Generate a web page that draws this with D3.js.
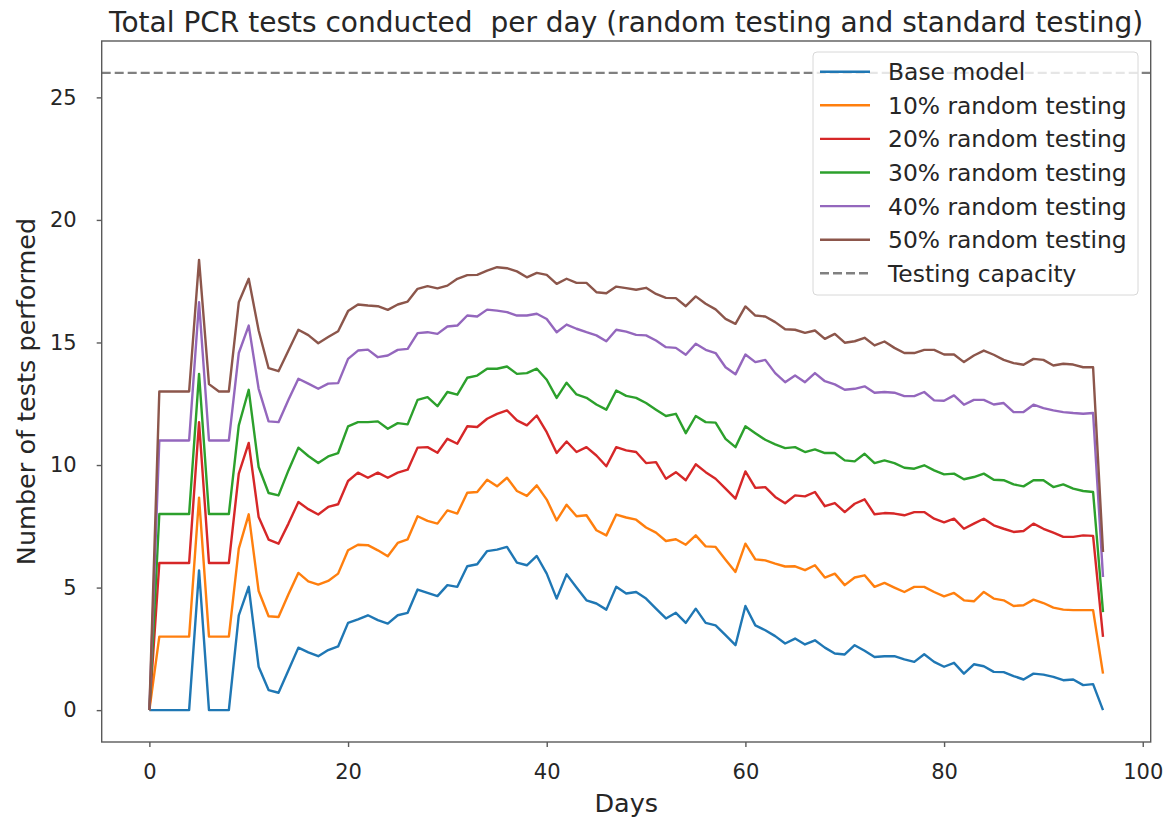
<!DOCTYPE html>
<html>
<head>
<meta charset="utf-8">
<script src="https://cdn.jsdelivr.net/npm/d3@7"></script>
<style>
  body { margin: 0; background: #fff; }
  text { font-family: "DejaVu Sans", sans-serif; fill: #262626; }
</style>
</head>
<body>
<div id="chart"></div>
<script>
// values, one per day (0..96)
var days = d3.range(0, 97);

var baseModel = [
  0, 0, 0, 0, 0, 5.7, 0, 0, 0, 3.87,
  5.03, 1.77, 0.82, 0.71, 1.63, 2.55, 2.36, 2.2, 2.45, 2.6,
  3.56, 3.7, 3.87, 3.67, 3.53, 3.87, 3.97, 4.92, 4.78, 4.65,
  5.1, 5.03, 5.87, 5.95, 6.49, 6.55, 6.66, 6.02, 5.91, 6.29,
  5.57, 4.55, 5.54, 5.0, 4.48, 4.35, 4.1, 5.03, 4.76, 4.82,
  4.55, 4.14, 3.74, 3.97, 3.56, 4.14, 3.56, 3.46, 3.06, 2.65,
  4.25, 3.46, 3.26, 3.02, 2.72, 2.92, 2.68, 2.85, 2.55, 2.31,
  2.27, 2.65, 2.42, 2.17, 2.2, 2.2, 2.07, 1.97, 2.28, 1.97,
  1.77, 1.93, 1.49, 1.87, 1.79, 1.56, 1.55, 1.39, 1.25, 1.49,
  1.45, 1.36, 1.22, 1.25, 1.02, 1.06, 0
];
var random10 = [
  0, 3, 3, 3, 3, 8.67, 3, 3, 3, 6.59,
  7.99, 4.86, 3.83, 3.8, 4.73, 5.6, 5.25, 5.12, 5.27, 5.57,
  6.52, 6.75, 6.73, 6.52, 6.28, 6.82, 6.97, 7.91, 7.72, 7.61,
  8.15, 8.02, 8.87, 8.9, 9.4, 9.13, 9.48, 8.94, 8.74, 9.17,
  8.59, 7.74, 8.38, 7.91, 7.95, 7.34, 7.13, 7.98, 7.86, 7.77,
  7.45, 7.24, 6.9, 6.97, 6.75, 7.13, 6.68, 6.66, 6.14, 5.64,
  6.79, 6.15, 6.11, 5.98, 5.86, 5.87, 5.71, 5.91, 5.41, 5.57,
  5.1, 5.41, 5.5, 5.03, 5.19, 5.0, 4.82, 5.03, 5.03, 4.82,
  4.64, 4.78, 4.48, 4.44, 4.82, 4.55, 4.48, 4.25, 4.28, 4.51,
  4.37, 4.18, 4.1, 4.08, 4.08, 4.08, 1.49
];
var random20 = [
  0, 6, 6, 6, 6, 11.75, 6, 6, 6, 9.65,
  10.9, 7.88, 6.96, 6.79, 7.61, 8.49, 8.2, 7.98, 8.29, 8.4,
  9.35, 9.69, 9.48, 9.69, 9.48, 9.69, 9.81, 10.71, 10.73, 10.5,
  11.07, 10.87, 11.58, 11.55, 11.89, 12.09, 12.23, 11.82, 11.62, 12.02,
  11.34, 10.49, 10.96, 10.53, 10.73, 10.39, 9.95, 10.73, 10.6, 10.53,
  10.08, 10.12, 9.44, 9.71, 9.38, 10.03, 9.71, 9.44, 9.04, 8.63,
  9.74, 9.07, 9.1, 8.7, 8.44, 8.76, 8.72, 8.9, 8.32, 8.45,
  8.08, 8.42, 8.6, 7.99, 8.04, 8.02, 7.95, 8.08, 8.08, 7.81,
  7.66, 7.81, 7.4, 7.61, 7.81, 7.54, 7.4, 7.27, 7.31, 7.61,
  7.4, 7.24, 7.07, 7.07, 7.13, 7.11, 2.99
];
var random30 = [
  0, 8, 8, 8, 8, 13.72, 8, 8, 8, 11.62,
  13.07, 9.92, 8.86, 8.76, 9.78, 10.71, 10.37, 10.08, 10.35, 10.49,
  11.58, 11.75, 11.75, 11.78, 11.48, 11.71, 11.66, 12.66, 12.77, 12.4,
  12.98, 12.87, 13.56, 13.65, 13.93, 13.93, 14.02, 13.72, 13.75, 13.93,
  13.48, 12.74, 13.36, 12.88, 12.74, 12.47, 12.26, 13.04, 12.82, 12.74,
  12.53, 12.26, 12.0, 12.09, 11.3, 12.0, 11.75, 11.73, 11.07, 10.73,
  11.58, 11.3, 11.03, 10.84, 10.69, 10.73, 10.53, 10.64, 10.49, 10.49,
  10.19, 10.15, 10.46, 10.08, 10.19, 10.08, 9.89, 9.85, 9.99, 9.78,
  9.62, 9.65, 9.42, 9.51, 9.65, 9.4, 9.38, 9.21, 9.13, 9.38,
  9.38, 9.1, 9.21, 9.04, 8.94, 8.9, 4.0
];
var random40 = [
  0, 11, 11, 11, 11, 16.64, 11, 11, 11, 14.57,
  15.69, 13.11, 11.78, 11.75, 12.66, 13.52, 13.32, 13.11, 13.32, 13.34,
  14.33, 14.67, 14.71, 14.4, 14.47, 14.7, 14.74, 15.38, 15.42, 15.35,
  15.65, 15.69, 16.1, 16.06, 16.34, 16.3, 16.24, 16.1, 16.1, 16.17,
  15.96, 15.42, 15.73, 15.56, 15.42, 15.29, 15.05, 15.52, 15.44, 15.31,
  15.29, 15.08, 14.81, 14.78, 14.5, 14.95, 14.7, 14.57, 13.99, 13.7,
  14.51, 14.2, 14.29, 13.75, 13.38, 13.65, 13.38, 13.75, 13.42, 13.29,
  13.07, 13.11, 13.21, 12.95, 12.98, 12.95, 12.81, 12.81, 12.98, 12.64,
  12.62, 12.84, 12.46, 12.66, 12.66, 12.47, 12.53, 12.16, 12.16, 12.46,
  12.32, 12.23, 12.16, 12.12, 12.09, 12.12, 5.43
];
var random50 = [
  0, 13, 13, 13, 13, 18.37, 13.3, 13, 13, 16.64,
  17.6, 15.49, 13.95, 13.83, 14.67, 15.52, 15.3, 14.97, 15.22, 15.46,
  16.28, 16.55, 16.51, 16.48, 16.33, 16.55, 16.67, 17.19, 17.3, 17.21,
  17.32, 17.6, 17.75, 17.76, 17.93, 18.07, 18.03, 17.9, 17.66, 17.84,
  17.76, 17.39, 17.6, 17.43, 17.43, 17.05, 17.01, 17.28, 17.22, 17.15,
  17.23, 16.98, 16.82, 16.81, 16.48, 16.88, 16.58, 16.35, 15.96, 15.76,
  16.47, 16.1, 16.06, 15.83, 15.54, 15.52, 15.39, 15.49, 15.15, 15.35,
  14.99, 15.05, 15.19, 14.88, 15.04, 14.78, 14.57, 14.57, 14.7, 14.7,
  14.51, 14.51, 14.2, 14.47, 14.67, 14.5, 14.29, 14.16, 14.09, 14.33,
  14.29, 14.06, 14.13, 14.1, 13.99, 13.99, 6.45
];
var testingCapacity = 26;

var seriesNames = ["Base model", "10% random testing", "20% random testing",
  "30% random testing", "40% random testing", "50% random testing"];
var seriesValues = [baseModel, random10, random20, random30, random40, random50];
var colors = ["#1f77b4", "#ff7f0e", "#d62728", "#2ca02c", "#9467bd", "#8c564b"];

var xTicks = [0, 20, 40, 60, 80, 100];
var yTicks = [0, 5, 10, 15, 20, 25];

var width = 1168,
  height = 818,
  margin = {left: 101.7, right: 17.3, top: 41, bottom: 76},
  innerW = width - margin.left - margin.right,
  innerH = height - margin.top - margin.bottom;

var svg = d3.select("#chart").append("svg")
  .attr("width", width)
  .attr("height", height);

var chart = svg.append("g")
  .attr("transform", "translate(" + margin.left + "," + margin.top + ")");

// matplotlib style 5% margins
var x = d3.scaleLinear().domain([-4.8, 100.8]).range([0, innerW]);
var y = d3.scaleLinear().domain([-1.3, 27.3]).range([innerH, 0]);

var line = d3.line()
  .x(function (d, i) { return x(days[i]); })
  .y(function (d) { return y(d); });

chart.selectAll("path.series")
  .data(seriesValues)
  .enter().append("path")
  .attr("class", "series")
  .attr("d", line)
  .attr("fill", "none")
  .attr("stroke", function (d, i) { return colors[i]; })
  .attr("stroke-width", 2.4)
  .attr("stroke-linejoin", "round");

chart.append("line")
  .attr("x1", 0).attr("x2", innerW)
  .attr("y1", y(testingCapacity)).attr("y2", y(testingCapacity))
  .attr("stroke", "#808080")
  .attr("stroke-width", 2.4)
  .attr("stroke-dasharray", "9,4");

// axes
var xAxis = chart.append("g")
  .attr("transform", "translate(0," + innerH + ")")
  .call(d3.axisBottom(x).tickValues(xTicks).tickSize(5).tickPadding(17).tickSizeOuter(0));
var yAxis = chart.append("g")
  .call(d3.axisLeft(y).tickValues(yTicks).tickSize(5).tickPadding(20).tickSizeOuter(0));

[xAxis, yAxis].forEach(function (a) {
  a.select(".domain").remove();
  a.selectAll("line").attr("stroke", "#5a5a5a").attr("stroke-width", 1.4);
  a.selectAll("text").style("font-size", "21px").style("font-family", "DejaVu Sans").attr("fill", "#262626");
});

// frame
chart.append("rect")
  .attr("x", 0).attr("y", 0)
  .attr("width", innerW).attr("height", innerH)
  .attr("fill", "none")
  .attr("stroke", "#5a5a5a")
  .attr("stroke-width", 1.4);

// labels
svg.append("text")
  .attr("x", margin.left + innerW / 2)
  .attr("y", 32)
  .attr("text-anchor", "middle")
  .style("font-size", "28px")
  .text("Total PCR tests conducted\u00a0 per day (random testing and standard testing)");

svg.append("text")
  .attr("x", margin.left + innerW / 2)
  .attr("y", 812)
  .attr("text-anchor", "middle")
  .style("font-size", "25.5px")
  .text("Days");

svg.append("text")
  .attr("transform", "translate(35," + (margin.top + innerH / 2) + ") rotate(-90)")
  .attr("text-anchor", "middle")
  .style("font-size", "25.5px")
  .text("Number of tests performed");

// legend
var legendItems = seriesNames.map(function (n, i) { return {name: n, color: colors[i], dash: null}; });
legendItems.push({name: "Testing capacity", color: "#808080", dash: "9,4"});

var legend = svg.append("g").attr("transform", "translate(813,52)");
legend.append("rect")
  .attr("width", 325).attr("height", 243)
  .attr("rx", 4)
  .attr("fill", "#fff").attr("fill-opacity", 0.8)
  .attr("stroke", "#d8d8d8").attr("stroke-width", 1);

var rows = legend.selectAll("g.row")
  .data(legendItems)
  .enter().append("g")
  .attr("class", "row")
  .attr("transform", function (d, i) { return "translate(0," + (19.7 + i * 33.6) + ")"; });

rows.append("line")
  .attr("x1", 7).attr("x2", 57)
  .attr("stroke", function (d) { return d.color; })
  .attr("stroke-width", 2.4)
  .attr("stroke-dasharray", function (d) { return d.dash; });

rows.append("text")
  .attr("x", 75)
  .attr("dy", "0.36em")
  .style("font-size", "23.4px")
  .text(function (d) { return d.name; });
</script>
</body>
</html>
